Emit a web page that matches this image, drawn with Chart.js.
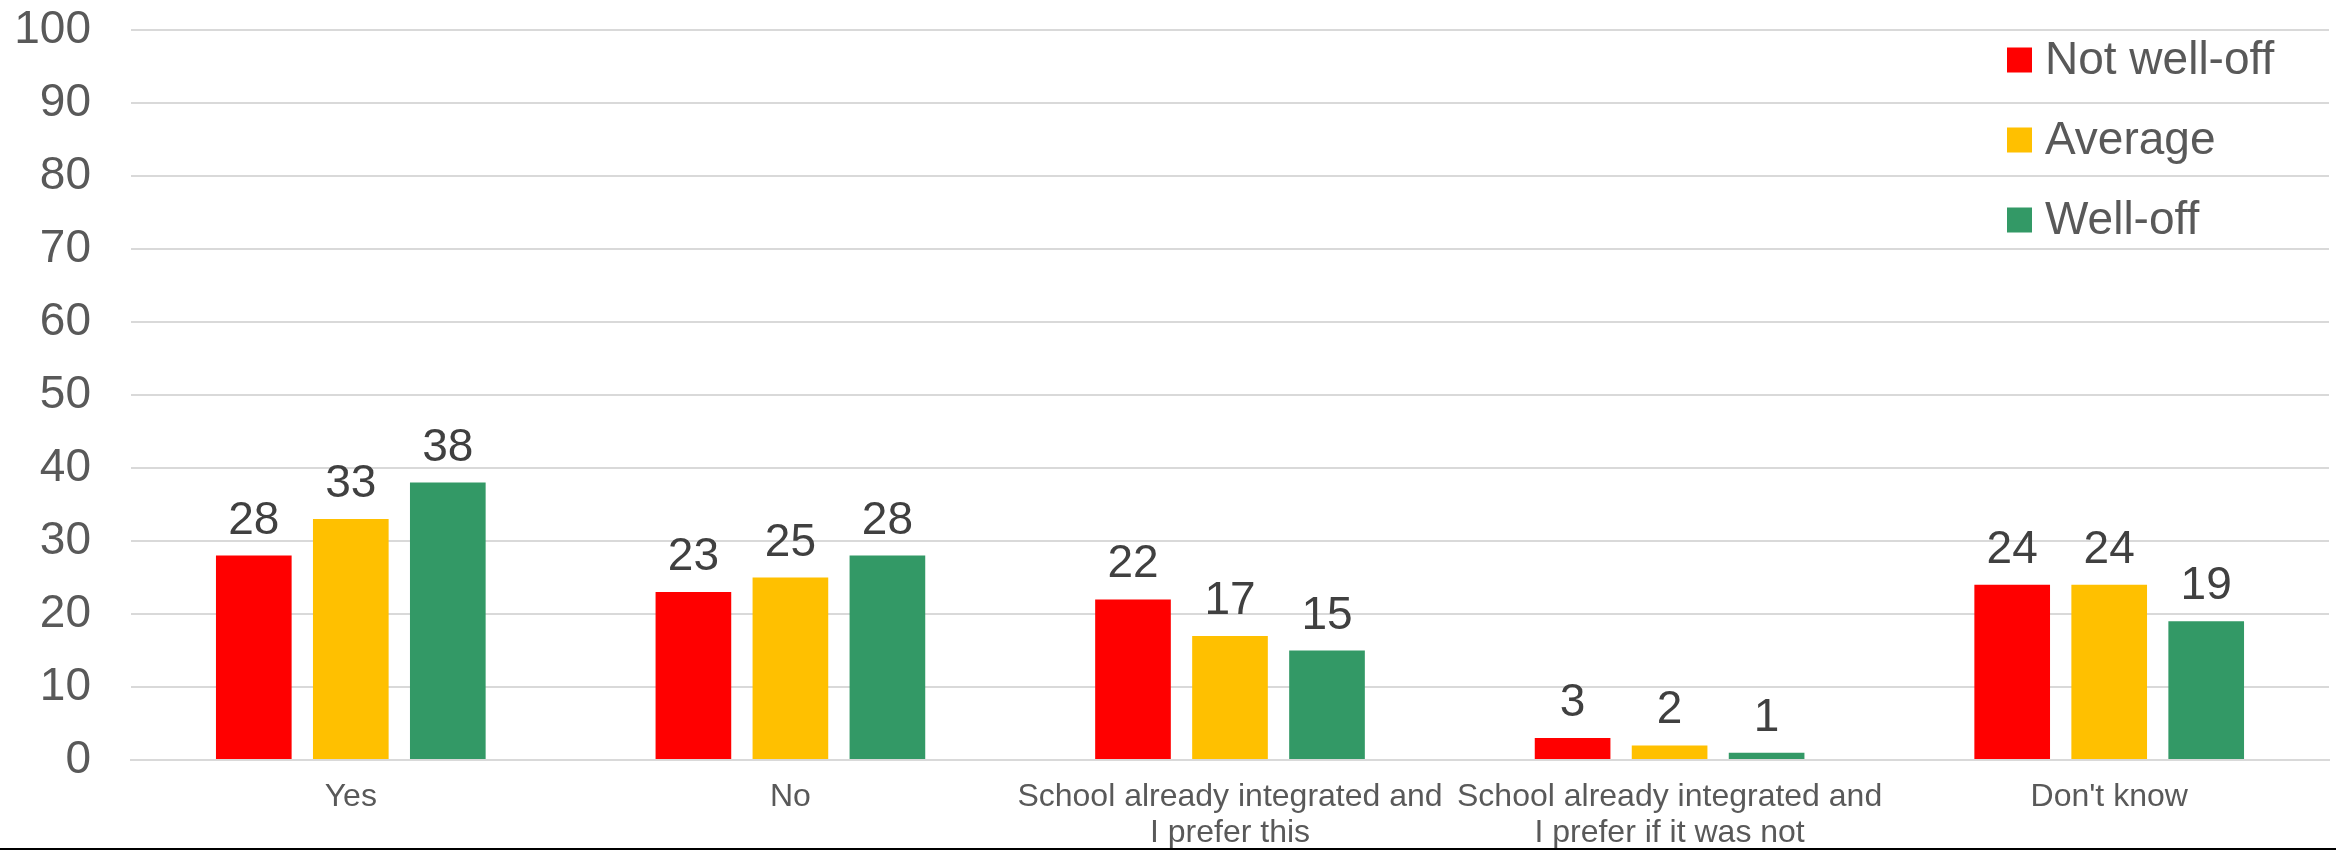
<!DOCTYPE html>
<html>
<head>
<meta charset="utf-8">
<script src="https://cdn.jsdelivr.net/npm/chart.js@4"></script>
<style>
  html, body { margin: 0; padding: 0; background: #ffffff; }
  #wrap { position: relative; width: 2336px; height: 850px; }
</style>
</head>
<body>
<div id="wrap"><canvas id="c" width="2336" height="850"></canvas></div>
<script>
const categories = ['Yes', 'No', ['School already integrated and', 'I prefer this'], ['School already integrated and', 'I prefer if it was not'], "Don't know"];
const seriesNames = ['Not well-off', 'Average', 'Well-off'];
const notWellOff = [28, 23, 22, 3, 24];
const average = [33, 25, 17, 2, 24];
const wellOff = [38, 28, 15, 1, 19];
const yTicks = [0, 10, 20, 30, 40, 50, 60, 70, 80, 90, 100];
const colors = ['#FF0000', '#FFC000', '#339966'];

const FONT = '"Liberation Sans", Arial, sans-serif';

const dataLabels = {
  id: 'dataLabels',
  afterDatasetsDraw(chart) {
    const ctx = chart.ctx;
    ctx.save();
    ctx.font = '46px ' + FONT;
    ctx.fillStyle = '#404040';
    ctx.textAlign = 'center';
    ctx.textBaseline = 'alphabetic';
    chart.data.datasets.forEach((ds, i) => {
      const meta = chart.getDatasetMeta(i);
      meta.data.forEach((el, j) => {
        ctx.fillText(String(ds.data[j]), el.x, el.y - 22);
      });
    });
    ctx.restore();
  }
};

const customLegend = {
  id: 'customLegend',
  afterDraw(chart) {
    const ctx = chart.ctx;
    ctx.save();
    ctx.font = '46px ' + FONT;
    ctx.textAlign = 'left';
    ctx.textBaseline = 'middle';
    chart.data.datasets.forEach((ds, i) => {
      const cy = 60 + 80 * i;
      ctx.fillStyle = ds.backgroundColor;
      ctx.fillRect(2007, cy - 12.5, 25, 25);
      ctx.fillStyle = '#595959';
      ctx.fillText(ds.label, 2045, cy + 1);
    });
    ctx.fillStyle = '#000000';
    ctx.fillRect(0, 848, chart.width, 2);
    ctx.restore();
  }
};

new Chart(document.getElementById('c'), {
  type: 'bar',
  data: {
    labels: categories,
    datasets: [
      { label: seriesNames[0], data: notWellOff, backgroundColor: colors[0] },
      { label: seriesNames[1], data: average, backgroundColor: colors[1] },
      { label: seriesNames[2], data: wellOff, backgroundColor: colors[2] }
    ]
  },
  options: {
    responsive: false,
    animation: false,
    devicePixelRatio: 1,
    layout: { padding: { top: 30, right: 7, bottom: 0, left: 0 } },
    datasets: { bar: { categoryPercentage: 0.662, barPercentage: 0.78 } },
    plugins: {
      legend: { display: false },
      tooltip: { enabled: false }
    },
    scales: {
      x: {
        grid: { display: false, drawTicks: false },
        border: { display: true, color: '#D9D9D9', width: 2 },
        ticks: {
          color: '#595959',
          font: { family: FONT, size: 32, lineHeight: 1.1 },
          padding: 20,
          maxRotation: 0,
          autoSkip: false
        },
        afterFit(scale) {
          scale.height = 90;
          scale.paddingLeft = 0; scale.paddingRight = 0;
          scale.paddingTop = 0; scale.paddingBottom = 0;
        }
      },
      y: {
        min: 0,
        max: 100,
        afterBuildTicks(scale) { scale.ticks = yTicks.map(v => ({ value: v })); },
        grid: { color: '#D9D9D9', lineWidth: 2, drawTicks: false },
        border: { display: false },
        ticks: {
          color: '#595959',
          font: { family: FONT, size: 46 },
          padding: 40
        },
        afterFit(scale) {
          scale.width = 131;
          scale.paddingTop = 0; scale.paddingBottom = 0;
          scale.paddingLeft = 0; scale.paddingRight = 0;
        }
      }
    }
  },
  plugins: [dataLabels, customLegend]
});
</script>
</body>
</html>
